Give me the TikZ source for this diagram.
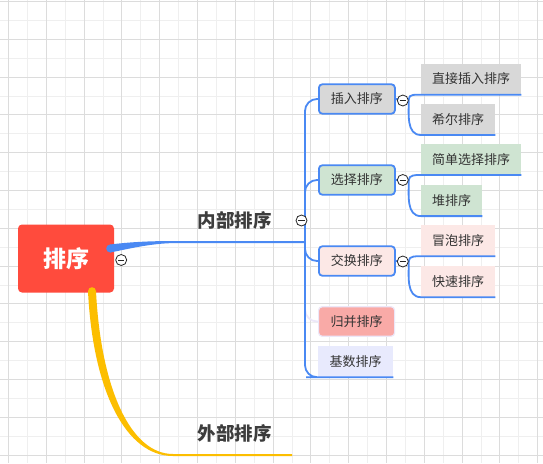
\documentclass[tikz,border=0pt]{standalone}
\usepackage{fontspec}
\setmainfont{Noto Sans CJK SC}
\usetikzlibrary{calc,positioning}
\definecolor{ink}{HTML}{333333}
\definecolor{gridmajor}{HTML}{DCDCDC}
\definecolor{gridminor}{HTML}{EFEFEF}
\definecolor{rootred}{HTML}{FF4B3D}
\definecolor{branch}{HTML}{4A89F3}
\definecolor{gold}{HTML}{FCBE00}
\definecolor{graybox}{HTML}{D8D8D8}
\definecolor{greenbox}{HTML}{CFE4D2}
\definecolor{pinkbox}{HTML}{FCE8E6}
\definecolor{salmon}{HTML}{F9AAA7}
\definecolor{lilac}{HTML}{ECE7F8}
\definecolor{lavender}{HTML}{E8EAFD}
\tikzset{
  rootbox/.style={fill=rootred,rounded corners=4pt,minimum width=96pt,minimum height=68pt,text=white,font=\fontsize{23}{26}\selectfont\bfseries},
  mainlabel/.style={font=\fontsize{18.5}{21}\selectfont\bfseries,text=ink!95},
  subtopic/.style={anchor=west,minimum height=31pt,inner xsep=11pt,inner ysep=0pt,font=\fontsize{13}{15}\selectfont,text=ink},
  topic/.style={subtopic,draw=branch,line width=1.8pt,rounded corners=3.5pt,minimum height=29.5pt,inner xsep=12pt},
  link/.style={draw=branch,line width=1.8pt},
  fold/.style={circle,draw=black!85,fill=white,line width=0.8pt,minimum size=11pt,inner sep=0pt,
    path picture={\draw[line width=0.9pt] ([xshift=-3.2pt]path picture bounding box.center) -- ([xshift=3.2pt]path picture bounding box.center);}}
}
\begin{document}
\begin{tikzpicture}[x=1pt,y=-1pt]
  \def\W{543}
  \def\H{463}
  \def\g{37.8}
  % background grid
  \fill[white] (0,0) rectangle (\W,\H);
  \useasboundingbox (0,0) rectangle (\W,\H);
  \foreach \k in {0,...,14} {
    \draw[gridminor,line width=1pt] (27.4+\g*\k,0) -- (27.4+\g*\k,\H);
  }
  \foreach \k in {0,...,12} {
    \draw[gridminor,line width=1pt] (0,20.4+\g*\k) -- (\W,20.4+\g*\k);
  }
  \foreach \k in {0,...,14} {
    \draw[gridmajor,line width=1pt] (8.5+\g*\k,0) -- (8.5+\g*\k,\H);
  }
  \foreach \k in {0,...,12} {
    \draw[gridmajor,line width=1pt] (0,1.5+\g*\k) -- (\W,1.5+\g*\k);
  }

  % root and main branches
  \node[rootbox] (root) at (66,258.5) {排序};
  \node[mainlabel] (inner) at (234.5,220.5) {内部排序};
  \node[mainlabel] (outer) at (234.5,433.5) {外部排序};
  \coordinate (rootR) at ($(root.east)+(-4,-10)$);
  \coordinate (fork) at (305,242);
  \coordinate (rootB) at ($(root.south)+(26,-1.5)$);
  \coordinate (outE) at (292,455);

  \fill[branch] ($(rootR)+(0,-4)$) .. controls ($(rootR)+(20,-6.5)$) and ($(rootR)+(40,-7.5)$) .. ($(fork)+(-130,-1)$)
    -- ($(fork)+(0,-1)$) -- ($(fork)+(0,1)$) -- ($(fork)+(-130,1)$)
    .. controls ($(rootR)+(40,-5)$) and ($(rootR)+(20,0)$) .. ($(rootR)+(0,4)$) -- cycle;
  \fill[branch] (rootR) circle (4);

  \fill[gold] ($(rootB)+(-4,0)$) .. controls ($(rootB)+(1,100)$) and ($(rootB)+(34,165)$) .. ($(outE)+(-119,1)$)
    -- ($(outE)+(0,1)$) -- ($(outE)+(0,-1)$) -- ($(outE)+(-119,-1)$)
    .. controls ($(rootB)+(39,163)$) and ($(rootB)+(9,98)$) .. ($(rootB)+(4,0)$) -- cycle;
  \fill[gold] (rootB) circle (4);

  % first level
  \node[topic,fill=graybox] (ins) at (318,99) {插入排序};
  \node[topic,fill=greenbox] (sel) at (318,180) {选择排序};
  \node[topic,fill=pinkbox] (swp) at (318,261) {交换排序};
  \node[topic,draw=lilac,line width=1.2pt,fill=salmon] (mrg) at (318,321.5) {归并排序};
  \node[subtopic,fill=lavender,inner xsep=11.5pt] (rad) at (318,361.5) {基数排序};

  \draw[draw=lilac,line width=1.8pt,rounded corners=12pt] (fork) |- (mrg.west);
  \foreach \n in {ins,sel,swp} {
    \draw[link,rounded corners=12pt] (fork) |- (\n.west);
  }
  \draw[link,rounded corners=12pt] (fork) |- (rad.south west) -- (rad.south east);

  % second level
  \node[subtopic,fill=graybox] (direct) at (421,79) {直接插入排序};
  \node[subtopic,fill=graybox] (shell) at (421,119.3) {希尔排序};
  \node[subtopic,fill=greenbox] (simple) at (421,159.2) {简单选择排序};
  \node[subtopic,fill=greenbox] (heap) at (421,200.4) {堆排序};
  \node[subtopic,fill=pinkbox] (bubble) at (421,240.5) {冒泡排序};
  \node[subtopic,fill=pinkbox] (quick) at (421,281.5) {快速排序};

  \foreach \p/\a/\b in {ins/direct/shell,sel/simple/heap,swp/bubble/quick} {
    \coordinate (\p F) at ($(\p.east)+(13,0)$);
    \draw[link] (\p.east) -- (\p F) to[out=90,in=180] (\a.south west) -- (\a.south east);
    \draw[link] (\p F) to[out=-90,in=180] (\b.south west) -- (\b.south east);
  }

  % fold markers
  \node[fold] (rootfold) at ($(root.east)+(7,1.5)$) {};
  \node[fold] (innerfold) at (301.5,220.5) {};
  \node[fold] (insfold) at ($(ins.east)+(7,1.5)$) {};
  \node[fold] (selfold) at ($(sel.east)+(7,0)$) {};
  \node[fold] (swpfold) at ($(swp.east)+(7,0.5)$) {};
\end{tikzpicture}
\end{document}
